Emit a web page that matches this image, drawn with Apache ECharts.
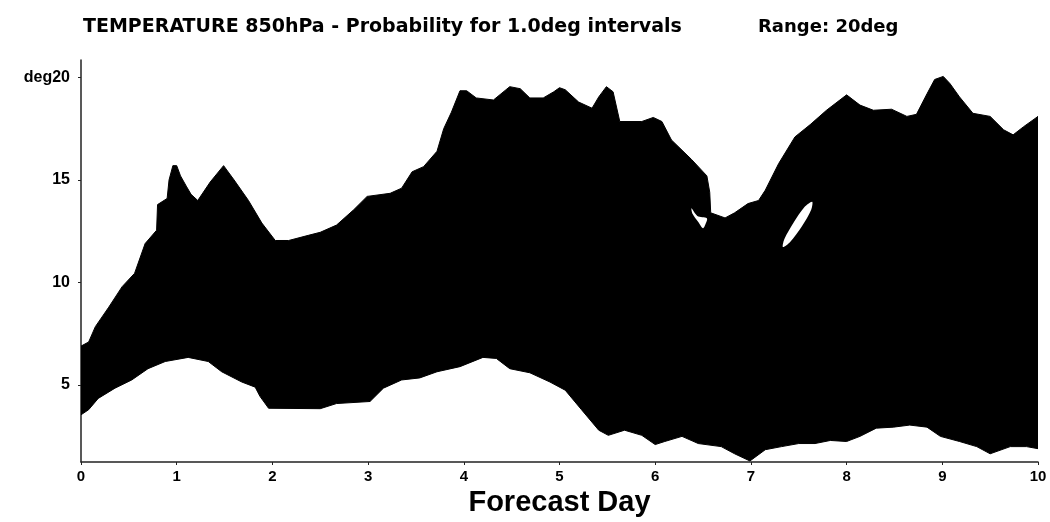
<!DOCTYPE html>
<html>
<head>
<meta charset="utf-8">
<script src="https://cdn.jsdelivr.net/npm/echarts@6/dist/echarts.min.js"></script>
<style>html,body{margin:0;padding:0;background:#fff;}#c{width:1050px;height:522px;}</style>
</head>
<body>
<div id="c"></div>
<script>
// Upper envelope of the probability band: [forecast day, deg]
const upperEdge = [
 [0,6.9],[0.08,7.1],[0.15,7.85],[0.29,8.8],[0.43,9.8],[0.56,10.45],[0.67,11.9],[0.79,12.55],
 [0.80,13.8],[0.90,14.1],[0.92,15.0],[0.96,15.7],[1.00,15.7],[1.04,15.2],[1.10,14.7],[1.15,14.3],
 [1.22,14.0],[1.35,14.9],[1.49,15.7],[1.60,15.0],[1.75,14.0],[1.89,12.9],[2.03,12.05],[2.17,12.05],
 [2.375,12.3],[2.5,12.45],[2.67,12.8],[2.85,13.55],[2.99,14.2],[3.23,14.35],[3.35,14.6],[3.46,15.4],
 [3.58,15.65],[3.72,16.4],[3.79,17.5],[3.87,18.3],[3.96,19.35],[4.03,19.35],[4.13,19.0],[4.31,18.9],
 [4.48,19.55],[4.59,19.45],[4.69,19.0],[4.83,19.0],[4.94,19.3],[5.0,19.5],[5.06,19.4],[5.20,18.8],
 [5.34,18.5],[5.41,19.05],[5.49,19.55],[5.56,19.3],[5.63,17.85],[5.86,17.85],[5.98,18.05],[6.07,17.85],
 [6.17,16.95],[6.38,16.0],[6.54,15.2],[6.57,14.4],[6.58,13.4],[6.73,13.15],[6.83,13.4],[6.97,13.85],
 [7.08,14.0],[7.15,14.5],[7.29,15.8],[7.46,17.1],[7.62,17.7],[7.79,18.4],[8.0,19.15],[8.14,18.65],
 [8.28,18.4],[8.47,18.45],[8.63,18.1],[8.73,18.2],[8.84,19.2],[8.92,19.9],[9.01,20.05],[9.08,19.7],
 [9.18,19.05],[9.32,18.25],[9.50,18.1],[9.64,17.45],[9.74,17.2],[9.85,17.6],[10.0,18.1]
];
// Lower envelope of the probability band: [forecast day, deg]
const lowerEdge = [
 [0,3.55],[0.08,3.8],[0.18,4.35],[0.355,4.85],[0.53,5.25],[0.70,5.8],[0.88,6.15],[1.12,6.35],
 [1.33,6.15],[1.47,5.65],[1.68,5.15],[1.82,4.9],[1.87,4.45],[1.96,3.87],[2.5,3.85],[2.67,4.1],
 [3.02,4.2],[3.16,4.85],[3.35,5.25],[3.54,5.35],[3.72,5.65],[3.96,5.9],[4.2,6.35],[4.34,6.3],
 [4.48,5.8],[4.69,5.6],[4.90,5.15],[5.06,4.75],[5.23,3.8],[5.41,2.8],[5.51,2.55],[5.68,2.8],
 [5.86,2.55],[6.0,2.1],[6.1,2.25],[6.28,2.5],[6.45,2.15],[6.69,2.0],[6.83,1.65],[6.99,1.3],
 [7.15,1.85],[7.32,2.0],[7.5,2.15],[7.67,2.15],[7.83,2.3],[8.0,2.25],[8.14,2.5],[8.31,2.9],
 [8.49,2.95],[8.66,3.05],[8.84,2.95],[8.98,2.5],[9.18,2.25],[9.36,2.0],[9.5,1.65],[9.71,2.0],
 [9.88,2.0],[10.0,1.9]
];
// Gaps (zero probability) inside the band
const gapSliver = [[6.38,13.62],[6.44,13.25],[6.54,13.14],[6.53,12.9],[6.50,12.65],[6.45,12.95],[6.39,13.35]];
const gapEllipse = [[7.64,13.94],[7.63,13.55],[7.53,12.72],[7.41,11.98],[7.335,11.73],[7.35,12.12],[7.45,12.95],[7.56,13.68]];
const gaps = [gapSliver, gapEllipse];

const xTicks = [0,1,2,3,4,5,6,7,8,9,10];
const yTicks = [5,10,15,20];
const titleText = 'TEMPERATURE 850hPa - Probability for 1.0deg intervals';
const rangeText = 'Range: 20deg';
const xName = 'Forecast Day';
const yUnit = 'deg';

const TFONT = '"DejaVu Sans", "Liberation Sans", sans-serif';
const FONT = '"Liberation Sans", Arial, sans-serif';

const chart = echarts.init(document.getElementById('c'), null, {renderer: 'canvas'});
chart.setOption({
  animation: false,
  backgroundColor: '#fff',
  title: [
    {text: titleText, left: 83, top: 18, padding: 0, textStyle: {fontFamily: TFONT, fontWeight: 'bold', fontSize: 19, color: '#000'}},
    {text: rangeText, left: 758, top: 18, padding: 0, textStyle: {fontFamily: TFONT, fontWeight: 'bold', fontSize: 18, color: '#000'}}
  ],
  grid: {left: 81, right: 12, top: 60, bottom: 60, containLabel: false, outerBoundsMode: 'none'},
  xAxis: {
    type: 'value', min: 0, max: 10, interval: 1,
    name: xName, nameLocation: 'middle', nameGap: 25,
    nameTextStyle: {fontFamily: FONT, fontWeight: 'bold', fontSize: 29, color: '#000'},
    axisLine: {show: true, lineStyle: {color: '#222', width: 1.5}},
    axisTick: {show: true, length: 3, lineStyle: {color: '#222'}},
    axisLabel: {fontFamily: FONT, fontWeight: 'bold', fontSize: 15, color: '#000', margin: 7, showMinLabel: true, showMaxLabel: true},
    splitLine: {show: false}
  },
  yAxis: {
    type: 'value', min: 1.25, max: 20.85,
    axisLine: {show: true, lineStyle: {color: '#222', width: 1.5}},
    axisTick: {show: true, length: 3, customValues: yTicks, lineStyle: {color: '#222'}},
    axisLabel: {
      customValues: yTicks, fontFamily: FONT, fontWeight: 'bold', fontSize: 16, color: '#000', margin: 11,
      formatter: v => (v === 20 ? yUnit + v : String(v))
    },
    splitLine: {show: false}
  },
  series: [
    {
      type: 'custom', clip: true, z: 2,
      data: [0],
      renderItem: (params, api) => {
        const pts = upperEdge.map(p => api.coord(p)).concat(lowerEdge.slice().reverse().map(p => api.coord(p)));
        return {type: 'polygon', shape: {points: pts}, style: {fill: '#000', stroke: '#000', lineWidth: 1}};
      }
    },
    {
      type: 'custom', clip: true, z: 3,
      data: gaps.map((g, i) => i),
      renderItem: (params, api) => {
        const g = gaps[params.dataIndex];
        return {type: 'polygon', shape: {points: g.map(p => api.coord(p)), smooth: 0.3}, style: {fill: '#fff'}};
      }
    }
  ]
});
</script>
</body>
</html>
